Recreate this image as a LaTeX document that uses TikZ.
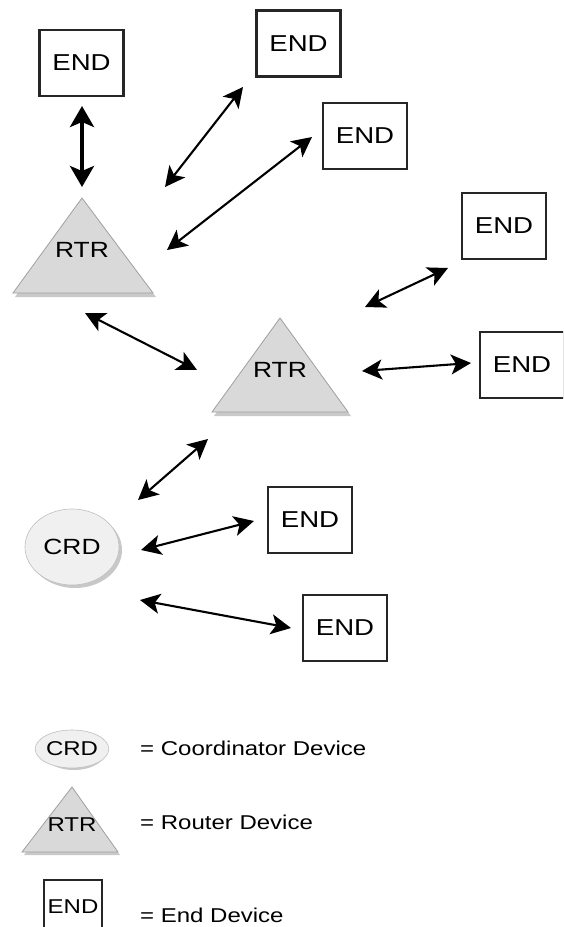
\documentclass[tikz,border=0pt]{standalone}
\usepackage{fontspec}
\setmainfont{Liberation Sans}
\usepackage{graphicx}
\usetikzlibrary{arrows.meta,shapes.geometric}
\definecolor{trifill}{HTML}{D9D9D9}
\definecolor{triedge}{HTML}{A0A0A0}
\definecolor{ellfill}{HTML}{F0F0F0}
\newcommand{\wlbl}[1]{\scalebox{1.2}[1]{#1}}
\begin{document}
\begin{tikzpicture}[x=1pt,y=-1pt,
  endbox/.style={draw=black!85, line width=2.6pt, fill=white, minimum width=84pt, minimum height=66pt, inner sep=0pt, font=\fontsize{23}{23}\selectfont},
  smallbox/.style={draw=black!85, line width=1.6pt, fill=white, minimum width=58pt, minimum height=60pt, inner sep=0pt, font=\fontsize{20}{20}\selectfont},
  lab/.style={font=\fontsize{22}{22}\selectfont, inner sep=0pt},
  smalllab/.style={font=\fontsize{20}{20}\selectfont, inner sep=0pt},
  legtext/.style={font=\fontsize{20}{20}\selectfont, anchor=west, inner sep=0pt},
  tri/.style={fill=trifill, draw=triedge, line width=0.8pt},
  trishadow/.style={fill=black!35, draw=none, opacity=0.6},
  link/.style={{Stealth[length=20pt,width=20pt,inset=5pt]}-{Stealth[length=20pt,width=20pt,inset=5pt]}, line width=2.1pt},
  thicklink/.style={{Stealth[length=21pt,width=24pt,inset=5pt]}-{Stealth[length=21pt,width=24pt,inset=5pt]}, line width=3.8pt},
]
\useasboundingbox (0,0) rectangle (563,927);
\clip (0,0) rectangle (563,927);
\fill[white] (0,0) rectangle (563,927);

% End devices
\node[endbox] (end1) at (81.5,63) {\wlbl{END}};
\node[endbox] (end2) at (298.5,43.5) {\wlbl{END}};
\node[endbox] (end3) at (365,136) {\wlbl{END}};
\node[endbox] (end4) at (504,226) {\wlbl{END}};
\node[endbox] (end5) at (522,365) {\wlbl{END}};
\node[endbox] (end6) at (310,520) {\wlbl{END}};
\node[endbox] (end7) at (345,628) {\wlbl{END}};

% Routers
\fill[trishadow] (84,201) -- (156,297) -- (15,297) -- cycle;
\draw[tri] (82,198) -- (153,293) -- (13,293) -- cycle;
\node[lab] (rtr1) at (82,250) {\wlbl{RTR}};
\fill[trishadow] (282,321) -- (351,416) -- (214,416) -- cycle;
\draw[tri] (280,318) -- (348,412) -- (212,412) -- cycle;
\node[lab] (rtr2) at (280,370) {\wlbl{RTR}};

% Coordinator
\fill[black!30, opacity=0.7] (75,550) ellipse [x radius=47pt, y radius=38pt];
\node[ellipse, fill=ellfill, draw=black!25, line width=0.6pt, minimum width=94pt, minimum height=76pt, inner sep=0pt, font=\fontsize{22}{22}\selectfont] (crd) at (72,547) {\wlbl{CRD}};

% Arrow end points
\coordinate (a1s) at (82,106);  \coordinate (a1e) at (82,187);
\coordinate (a2s) at (243,87);  \coordinate (a2e) at (165,187);
\coordinate (a3s) at (312,137); \coordinate (a3e) at (167,250);
\coordinate (a4s) at (85,313);  \coordinate (a4e) at (197,370);
\coordinate (a5s) at (448,268); \coordinate (a5e) at (365,307);
\coordinate (a6s) at (362,371); \coordinate (a6e) at (471,363);
\coordinate (a7s) at (208,439); \coordinate (a7e) at (138,500);
\coordinate (a8s) at (141,550); \coordinate (a8e) at (254,521);
\coordinate (a9s) at (140,600); \coordinate (a9e) at (291,628);

\draw[thicklink] (a1s) -- (a1e);
\draw[link] (a2s) -- (a2e);
\draw[link] (a3s) -- (a3e);
\draw[link] (a4s) -- (a4e);
\draw[link] (a5s) -- (a5e);
\draw[link] (a6s) -- (a6e);
\draw[link] (a7s) -- (a7e);
\draw[link] (a8s) -- (a8e);
\draw[link] (a9s) -- (a9e);

% Legend
\fill[black!30, opacity=0.7] (74,751) ellipse [x radius=32pt, y radius=19pt];
\node[ellipse, fill=ellfill, draw=black!25, line width=0.6pt, minimum width=64pt, minimum height=38pt, inner sep=0pt, font=\fontsize{20}{20}\selectfont] (lcrd) at (72,749) {\wlbl{CRD}};
\node[legtext] (lcrdt) at (140,748) {\wlbl{= Coordinator Device}};

\fill[trishadow] (73,790) -- (120,855) -- (24,855) -- cycle;
\draw[tri] (72,787) -- (118,852) -- (22,852) -- cycle;
\node[smalllab] (lrtr) at (72,825) {\wlbl{RTR}};
\node[legtext] (lrtrt) at (140,822) {\wlbl{= Router Device}};

\node[smallbox] (lend) at (73,910) {\raisebox{7pt}{\wlbl{END}}};
\node[legtext] (lendt) at (140,915) {\wlbl{= End Device}};
\end{tikzpicture}
\end{document}
